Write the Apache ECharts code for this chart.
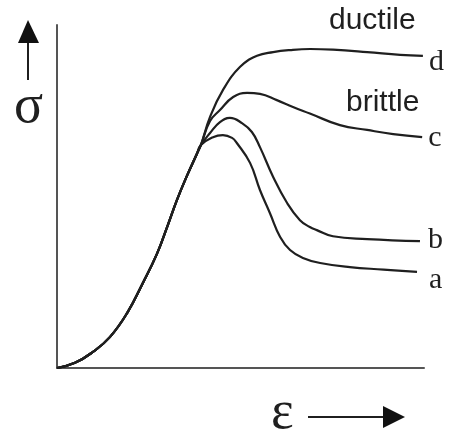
<!DOCTYPE html>
<html>
<head>
<meta charset="utf-8">
<script src="https://cdn.jsdelivr.net/npm/echarts@6/dist/echarts.min.js"></script>
<style>
  html, body { margin: 0; padding: 0; background: #fff; }
  #chart { width: 449px; height: 435px; }
</style>
</head>
<body>
<div id="chart"></div>
<script>
// Stress–strain curves: a shared elastic rise, then four post-peak behaviours.
const curveNames = ['a', 'b', 'c', 'd'];

// Shared loading branch [strain, stress]
const riseBranch = [
  [0, 0], [0.49, 0.15], [0.98, 0.47], [1.44, 0.90], [1.91, 1.60],
  [2.34, 2.48], [2.72, 3.32], [3.00, 4.11], [3.27, 4.90], [3.54, 5.60],
  [3.81, 6.24], [3.92, 6.50]
];

// Branches after the split
const branchA = [
  [4.25, 6.73], [4.52, 6.79], [4.77, 6.71], [4.90, 6.56], [5.26, 5.98],
  [5.53, 5.19], [5.80, 4.52], [6.08, 3.82], [6.35, 3.44], [6.70, 3.21],
  [7.17, 3.06], [7.98, 2.94], [8.90, 2.87], [9.81, 2.80]
];
const branchB = [
  [4.17, 6.85], [4.44, 7.17], [4.71, 7.29], [5.04, 7.14], [5.31, 6.88],
  [5.53, 6.44], [5.89, 5.57], [6.27, 4.81], [6.62, 4.31], [6.89, 4.11],
  [7.08, 4.02], [7.52, 3.84], [8.45, 3.76], [9.89, 3.70]
];
const branchC = [
  [4.17, 7.20], [4.44, 7.52], [4.80, 7.90], [5.18, 8.02], [5.53, 7.99],
  [5.99, 7.81], [6.43, 7.61], [6.89, 7.42], [7.71, 7.08], [8.45, 6.94],
  [9.16, 6.82], [9.95, 6.73]
];
const branchD = [
  [4.17, 7.32], [4.52, 8.10], [4.99, 8.78], [5.45, 9.10], [5.89, 9.21],
  [6.35, 9.27], [6.90, 9.30], [7.52, 9.28], [8.45, 9.21], [9.35, 9.13],
  [9.97, 9.10]
];

const branches = [branchA, branchB, branchC, branchD];
// placement of each end letter relative to its line end
const endOffsets = [[10, 8], [6, -1], [4, 1], [4, 6]];

const ink = '#1f1f1f';
const chart = echarts.init(document.getElementById('chart'), null, { renderer: 'canvas' });

const series = curveNames.map((name, i) => ({
  name: name,
  type: 'line',
  data: riseBranch.concat(branches[i]),
  smooth: 0.45,
  showSymbol: false,
  symbol: 'none',
  silent: true,
  z: 3,
  lineStyle: { color: ink, width: 2.2 },
  endLabel: {
    show: true,
    formatter: name,
    distance: 2,
    offset: endOffsets[i],
    fontFamily: 'Liberation Serif',
    fontSize: 30,
    color: ink
  }
}));

chart.setOption({
  animation: false,
  grid: { left: 57, right: 25, top: 25, bottom: 67 },
  xAxis: {
    type: 'value', min: 0, max: 10,
    axisLine: { show: true, onZero: false, lineStyle: { color: '#555', width: 2 } },
    axisTick: { show: false }, axisLabel: { show: false }, splitLine: { show: false }
  },
  yAxis: {
    type: 'value', min: 0, max: 10,
    axisLine: { show: true, onZero: false, lineStyle: { color: '#555', width: 2 } },
    axisTick: { show: false }, axisLabel: { show: false }, splitLine: { show: false }
  },
  series: series,
  graphic: [
    // stress axis name and arrow
    { type: 'text', left: 14, top: 81,
      style: { text: 'σ', font: '54px "Liberation Serif"', fill: ink } },
    { type: 'line', shape: { x1: 28, y1: 80, x2: 28, y2: 40 },
      style: { stroke: ink, lineWidth: 2 } },
    { type: 'polygon', shape: { points: [[28, 20], [18, 43], [39, 43]] },
      style: { fill: '#111' } },
    // strain axis name and arrow
    { type: 'text', left: 271, top: 387,
      style: { text: 'ε', font: '54px "Liberation Serif"', fill: ink } },
    { type: 'line', shape: { x1: 308, y1: 417, x2: 386, y2: 417 },
      style: { stroke: ink, lineWidth: 2 } },
    { type: 'polygon', shape: { points: [[405, 417], [383, 406], [383, 428]] },
      style: { fill: '#111' } },
    // behaviour annotations
    { type: 'text', left: 329, top: 6,
      style: { text: 'ductile', font: '30px "Liberation Sans"', fill: ink } },
    { type: 'text', left: 346, top: 88,
      style: { text: 'brittle', font: '30px "Liberation Sans"', fill: ink } }
  ]
});
</script>
</body>
</html>
